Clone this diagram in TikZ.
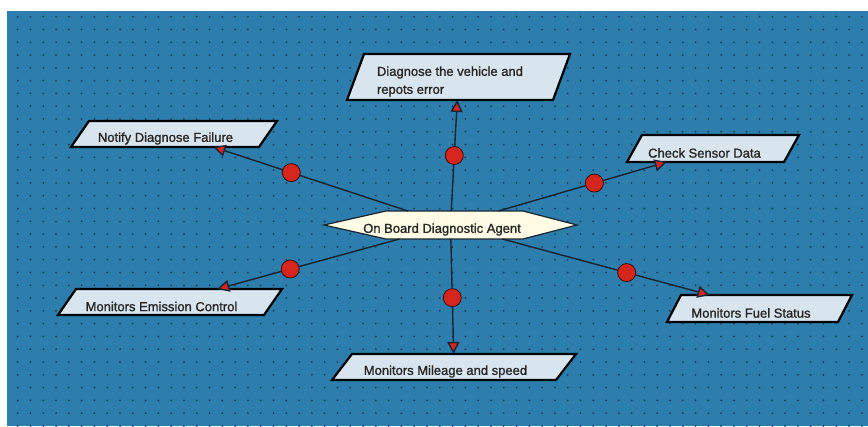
\documentclass[tikz,border=0pt]{standalone}
\usepackage{fontspec}
\setmainfont{Liberation Sans}
\newfontfamily\labelfont{Liberation Sans}[FakeBold=1.2]
\usetikzlibrary{arrows.meta}
\definecolor{canvasblue}{RGB}{45,126,173}
\definecolor{griddot}{RGB}{22,60,90}
\definecolor{taskfill}{RGB}{216,229,238}
\definecolor{agentfill}{RGB}{255,251,228}
\definecolor{beadred}{RGB}{214,38,28}
\definecolor{wire}{RGB}{24,36,50}

\begin{document}
\begin{tikzpicture}[x=1pt, y=-1pt]
    \tikzstyle{every node}=[font=\labelfont\fontsize{13}{18}\selectfont, text=black!85]
    \tikzstyle{task}=[rectangle, inner sep=0pt, outer sep=1pt]
    \tikzstyle{taskframe}=[draw=black, line width=2.2pt, fill=taskfill]
    \tikzstyle{tasktext}=[align=left, xshift=-8.5pt, yshift=-4.5pt]
    \tikzstyle{agentframe}=[draw=wire, line width=1.2pt, fill=agentfill]
    \tikzstyle{link}=[draw=wire, line width=1.4pt, -{Triangle[length=12pt, width=12pt, fill=beadred]}]
    \tikzstyle{bead}=[circle, draw=black!75!beadred, line width=0.8pt, fill=beadred, minimum size=18pt, inner sep=0pt]

    \useasboundingbox (0,0) rectangle (868,426);
    \fill[canvasblue] (7,11) rectangle (868,426);
    \begin{scope}
        \clip (7,11) rectangle (868,426);
        \foreach \i in {0,...,66}
            \foreach \j in {0,...,32}
                \fill[griddot] (17.7+12.79*\i, 16.7+12.79*\j) circle (1);
    \end{scope}

    \node[task, minimum width=251pt, minimum height=26pt] (agent) at (450.5,225) {};
    \node[task, minimum width=221pt, minimum height=44pt] (diagnose) at (458.5,77) {};
    \node[task, minimum width=204pt, minimum height=24pt] (notify) at (174,134) {};
    \node[task, minimum width=170pt, minimum height=25pt] (sensor) at (713,148.5) {};
    \node[task, minimum width=183pt, minimum height=25pt] (fuel) at (759.5,308.5) {};
    \node[task, minimum width=222pt, minimum height=24pt] (emission) at (170,302) {};
    \node[task, minimum width=242pt, minimum height=24pt] (mileage) at (454,367) {};

    \path[agentframe] (agent.west) -- ([xshift=62]agent.north west) -- ([xshift=-54]agent.north east)
        -- (agent.east) -- ([xshift=-54]agent.south east) -- ([xshift=62]agent.south west) -- cycle;
    \foreach \n/\s in {diagnose/17, notify/18, sensor/15, fuel/14, emission/18, mileage/20}
        \path[taskframe] ([xshift=\s]\n.north west) -- (\n.north east) -- ([xshift=-\s]\n.south east) -- (\n.south west) -- cycle;

    \node[tasktext] at (agent.center) {On Board Diagnostic Agent};
    \node[tasktext] at (diagnose.center) {Diagnose the vehicle and\\repots error};
    \node[tasktext] at (notify.center) {Notify Diagnose Failure};
    \node[tasktext] at (sensor.center) {Check Sensor Data};
    \node[tasktext] at (fuel.center) {Monitors Fuel Status};
    \node[tasktext] at (emission.center) {Monitors Emission Control};
    \node[tasktext] at (mileage.center) {Monitors Mileage and speed};

    \draw[link] (agent) -- node[bead, pos=0.5] {} (diagnose);
    \draw[link] (agent) -- node[bead, pos=0.6] {} (notify);
    \draw[link] (agent) -- node[bead, pos=0.57] {} (sensor);
    \draw[link] (agent) -- node[bead, pos=0.6] {} (fuel);
    \draw[link] (agent) -- node[bead, pos=0.6] {} (emission);
    \draw[link] (agent) -- node[bead, pos=0.51] {} (mileage);
\end{tikzpicture}
\end{document}
